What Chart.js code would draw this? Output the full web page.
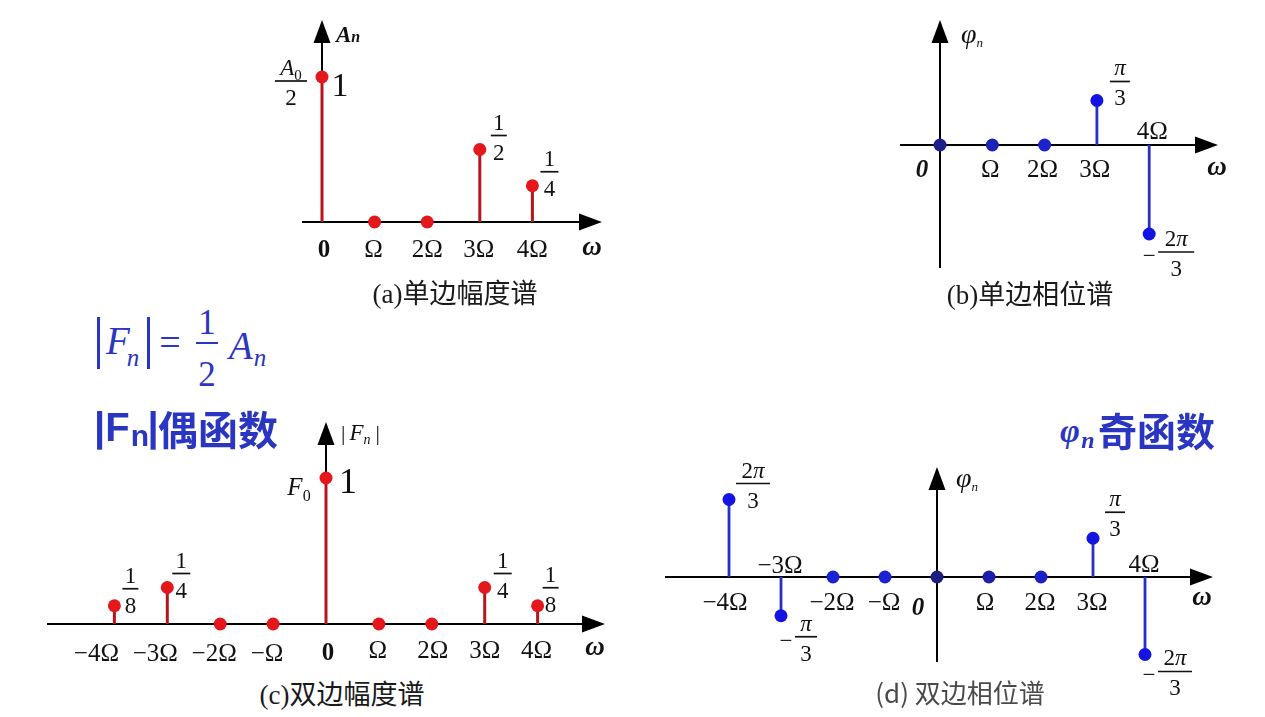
<!DOCTYPE html>
<html><head><meta charset="utf-8">
<script src="https://cdn.jsdelivr.net/npm/chart.js@4.4.0/dist/chart.umd.min.js"></script>
<style>
html,body{margin:0;padding:0;background:#fff;width:1265px;height:717px;overflow:hidden;position:relative}
canvas{position:absolute}
.t{position:absolute;white-space:nowrap;line-height:1;transform:translate(-50%,-50%)}
.l{position:absolute;white-space:nowrap;line-height:1;transform:translate(0,-50%)}
.bar{position:absolute}
.blue{color:#2a36c2}
</style></head><body>
<canvas id="ca"></canvas><canvas id="cb"></canvas><canvas id="cc"></canvas><canvas id="cd"></canvas>

<!-- formula -->
<div class="bar" style="left:97px;top:317px;width:2.5px;height:52px;background:#2a36c2"></div>
<div class="t blue" style="left:118px;top:340px;font:italic 39px 'Liberation Serif'">F</div>
<div class="t blue" style="left:133px;top:358px;font:italic 25px 'Liberation Serif'">n</div>
<div class="bar" style="left:147px;top:317px;width:2.5px;height:52px;background:#2a36c2"></div>
<div class="t blue" style="left:170px;top:342px;font:38px 'Liberation Serif'">=</div>
<div class="t blue" style="left:207px;top:323px;font:35px 'Liberation Serif'">1</div>
<div class="bar" style="left:196px;top:342px;width:22px;height:2px;background:#2a36c2"></div>
<div class="t blue" style="left:207px;top:375px;font:35px 'Liberation Serif'">2</div>
<div class="t blue" style="left:241px;top:345px;font:italic 39px 'Liberation Serif'">A</div>
<div class="t blue" style="left:260px;top:358px;font:italic 25px 'Liberation Serif'">n</div>

<div class="l blue" style="left:94px;top:427px;font:bold 40px 'Liberation Sans'">|F</div>
<div class="t blue" style="left:140px;top:436px;font:bold 30px 'Liberation Sans'">n</div>
<div class="t blue" style="left:153px;top:427px;font:bold 40px 'Liberation Sans'">|</div>
<div class="l blue" style="left:158px;top:428px;font:bold 40px 'Noto Sans CJK SC'">偶函数</div>

<div class="t blue" style="left:1070px;top:431px;font:italic bold 34px 'Liberation Serif'">φ</div>
<div class="t blue" style="left:1088px;top:440px;font:italic bold 24px 'Liberation Serif'">n</div>
<div class="l blue" style="left:1098px;top:429px;font:bold 39px 'Noto Sans CJK SC'">奇函数</div>

<div class="t" style="left:455px;top:291px;font:27px 'Liberation Serif','Noto Sans CJK SC';color:#1a1a1a">(a)单边幅度谱</div>
<div class="t" style="left:1030px;top:292px;font:27px 'Liberation Serif','Noto Sans CJK SC';color:#1a1a1a">(b)单边相位谱</div>
<div class="t" style="left:342px;top:692px;font:27px 'Liberation Serif','Noto Sans CJK SC';color:#1a1a1a">(c)双边幅度谱</div>
<div class="t" style="left:960px;top:691px;font:26px 'Noto Sans CJK SC';color:#4a4a4a">(d) 双边相位谱</div>

<script>
// ---------------- DATA ----------------
const harmonicsOneSided = [0, 1, 2, 3, 4];
const amplitudeOneSided = [1, 0, 0, 0.5, 0.25];
const phaseOneSided = [0, 0, 0, Math.PI / 3, -2 * Math.PI / 3];
const harmonicsTwoSided = [-4, -3, -2, -1, 0, 1, 2, 3, 4];
const amplitudeTwoSided = [0.125, 0.25, 0, 0, 1, 0, 0, 0.25, 0.125];
const phaseTwoSided = [2 * Math.PI / 3, -Math.PI / 3, 0, 0, 0, 0, 0, Math.PI / 3, -2 * Math.PI / 3];
const ticksOneSided = ['0', 'Ω', '2Ω', '3Ω', '4Ω'];
const ticksTwoSided = ['−4Ω', '−3Ω', '−2Ω', '−Ω', '0', 'Ω', '2Ω', '3Ω', '4Ω'];
const marksA = [[0, 'A_0/2'], [0, '1'], [3, '1/2'], [4, '1/4']];
const marksB = [[3, 'π/3'], [4, '−2π/3']];
const marksC = [[0, '1/8'], [1, '1/4'], [4, 'F_0'], [4, '1'], [7, '1/4'], [8, '1/8']];
const marksD = [[0, '2π/3'], [1, '−π/3'], [7, 'π/3'], [8, '−2π/3']];

// ---------------- RENDERING ----------------
const SERIF = '"Liberation Serif", "DejaVu Serif", serif';
const FRAC = 23, TICK = 25;
function fontOf(style, size) { return (style ? style + ' ' : '') + size + 'px ' + SERIF; }
function parse(str, size, bold) {
  const out = [];
  for (let i = 0; i < str.length; i++) {
    const ch = str[i];
    if (ch === '_') {
      out.push({ t: str[i + 1], f: fontOf(bold ? 'bold' : '', Math.round(size * 0.64)), dy: Math.round(size * 0.22) });
      i++; continue;
    }
    const it = /[A-Za-zπφω]/.test(ch);
    const st = (it ? 'italic' : '') + (bold ? (it ? ' bold' : 'bold') : '');
    out.push({ t: ch, f: fontOf(st, size) });
  }
  return out;
}
function drawSegs(ctx, sg, x, baseline, align) {
  let w = 0;
  sg.forEach(s => { ctx.font = s.f; s.w = ctx.measureText(s.t).width; w += s.w + (s.gap || 0); });
  let cx = align === 'center' ? x - w / 2 : align === 'right' ? x - w : x;
  ctx.textAlign = 'left'; ctx.textBaseline = 'alphabetic';
  sg.forEach(s => { ctx.font = s.f; ctx.fillText(s.t, cx, baseline + (s.dy || 0)); cx += s.w + (s.gap || 0); });
}
function drawFrac(ctx, str, cx, ly, half, size) {
  let neg = false;
  if (str[0] === '−') { neg = true; str = str.slice(1); }
  const parts = str.split('/');
  drawSegs(ctx, parse(parts[0], size), cx, ly - 6, 'center');
  drawSegs(ctx, parse(parts[1], size), cx, ly + 24, 'center');
  ctx.lineWidth = 1.7;
  ctx.beginPath(); ctx.moveTo(cx - half, ly); ctx.lineTo(cx + half, ly); ctx.stroke();
  if (neg) { ctx.font = fontOf('', size); ctx.textAlign = 'center'; ctx.fillText('−', cx - half - 9, ly + 11); }
}

function drawBack(chart, c) {
  const ctx = chart.ctx, xs = chart.scales.x, ys = chart.scales.y;
  const ox = xs.getPixelForValue(0), oy = ys.getPixelForValue(0);
  ctx.save();
  ctx.strokeStyle = '#000'; ctx.fillStyle = '#000'; ctx.lineWidth = 2;
  const xl = ox + c.axisX[0], xr = ox + c.axisX[1];
  ctx.beginPath(); ctx.moveTo(xl, oy); ctx.lineTo(xr - 10, oy); ctx.stroke();
  ctx.beginPath(); ctx.moveTo(xr, oy); ctx.lineTo(xr - 23, oy - 8.5); ctx.lineTo(xr - 23, oy + 8.5); ctx.closePath(); ctx.fill();
  const yb = oy + c.axisY[0], yt = oy - c.axisY[1];
  ctx.beginPath(); ctx.moveTo(ox, yb); ctx.lineTo(ox, yt + 10); ctx.stroke();
  ctx.beginPath(); ctx.moveTo(ox, yt); ctx.lineTo(ox - 8.5, yt + 23); ctx.lineTo(ox + 8.5, yt + 23); ctx.closePath(); ctx.fill();
  const d = chart.data.datasets[0].data;
  ctx.strokeStyle = c.stemColor; ctx.lineWidth = c.stemWidth;
  d.forEach(p => {
    if (p.y !== 0) {
      const px = xs.getPixelForValue(p.x), py = ys.getPixelForValue(p.y);
      ctx.beginPath(); ctx.moveTo(px, oy); ctx.lineTo(px, py); ctx.stroke();
    }
  });
  ctx.restore();
}
function drawFront(chart, c) {
  const ctx = chart.ctx, xs = chart.scales.x, ys = chart.scales.y;
  const ox = xs.getPixelForValue(0), oy = ys.getPixelForValue(0);
  const d = chart.data.datasets[0].data;
  ctx.save();
  ctx.fillStyle = '#111'; ctx.strokeStyle = '#111';
  c.ticks.forEach((t, i) => {
    const px = xs.getPixelForValue(d[i].x) + c.tickDx[i];
    const cy = oy + c.tickDy[i];
    const sg = (t === '0') ? [{ t: '0', f: fontOf(c.originStyle, TICK) }] : parse(t, TICK);
    drawSegs(ctx, sg, px, cy + 8.5, 'center');
  });
  drawSegs(ctx, [{ t: 'ω', f: fontOf('italic bold', 27) }], ox + c.omega[0], oy + c.omega[1] + 7, 'center');
  drawSegs(ctx, c.axisName, ox + c.axisNamePos[0], oy + c.axisNamePos[1], 'left');
  c.marks.forEach((m, k) => {
    const p = d[m[0]];
    const px = xs.getPixelForValue(p.x), py = ys.getPixelForValue(p.y);
    const o = c.markPos[k];
    if (m[1].indexOf('/') >= 0) {
      drawFrac(ctx, m[1], px + o[0], py + o[1], o[2], FRAC);
    } else {
      const size = o[2];
      drawSegs(ctx, parse(m[1], size), px + o[0], py + o[1] + size * 0.33, 'center');
    }
  });
  ctx.restore();
}

function makeChart(id, box, geo, xsArr, ysArr, c) {
  const cv = document.getElementById(id);
  cv.width = box.w; cv.height = box.h;
  cv.style.left = box.l + 'px'; cv.style.top = box.t + 'px';
  cv.style.width = box.w + 'px'; cv.style.height = box.h + 'px';
  const xmin = (box.l - geo.ox) / geo.ux, xmax = (box.l + box.w - geo.ox) / geo.ux;
  const ymax = (geo.oy - box.t) / geo.uy, ymin = (geo.oy - box.t - box.h) / geo.uy;
  new Chart(cv, {
    type: 'scatter',
    data: { datasets: [{
      data: xsArr.map((v, i) => ({ x: v, y: ysArr[i] })),
      pointRadius: 6.5, pointHoverRadius: 6.5, pointBorderWidth: 0,
      pointBackgroundColor: c.dotColors, borderWidth: 0, showLine: false, clip: false
    }] },
    options: {
      responsive: false, animation: false, events: [], devicePixelRatio: 1,
      layout: { padding: 0, autoPadding: false },
      plugins: { legend: { display: false }, tooltip: { enabled: false } },
      scales: {
        x: { type: 'linear', display: false, min: xmin, max: xmax },
        y: { type: 'linear', display: false, min: ymin, max: ymax }
      }
    },
    plugins: [{
      id: 'deco' + id,
      beforeDatasetsDraw(chart) { drawBack(chart, c); },
      afterDatasetsDraw(chart) { drawFront(chart, c); }
    }]
  });
}

const RED = '#e3171c', REDSTEM = '#b5161c', BLUESTEM = '#2830c4';

makeChart('ca', { l: 250, t: 10, w: 370, h: 262 }, { ox: 322, oy: 222, ux: 52.6, uy: 145 },
  harmonicsOneSided, amplitudeOneSided, {
    stemColor: REDSTEM, stemWidth: 3, dotColors: harmonicsOneSided.map(() => RED),
    axisX: [-20, 280], axisY: [0, 202],
    ticks: ticksOneSided, tickDx: [2, -1, 0, -1, 0], tickDy: [26, 26, 26, 26, 26], originStyle: 'bold',
    omega: [270, 26],
    axisName: [{ t: 'A', f: fontOf('italic bold', 23) }, { t: 'n', f: fontOf('italic bold', 16) }],
    axisNamePos: [14, -180],
    marks: marksA, markPos: [[-31, 4, 16], [18, 8, 34], [19, -14, 8], [17, -14, 9]]
  });

makeChart('cb', { l: 890, t: 10, w: 350, h: 270 }, { ox: 940, oy: 145, ux: 52.3, uy: 42.5 },
  harmonicsOneSided, phaseOneSided, {
    stemColor: BLUESTEM, stemWidth: 2.8,
    dotColors: ['#1c1f86', '#1d22b4', '#1b22cc', '#1414e2', '#1414e2'],
    axisX: [-40, 278], axisY: [123, 125],
    ticks: ticksOneSided, tickDx: [-18, -2, -2, -2, 3], tickDy: [23, 23, 23, 23, -15], originStyle: 'italic bold',
    omega: [277, 23],
    axisName: [{ t: 'φ', f: fontOf('italic', 28) }, { t: 'n', f: fontOf('italic', 13), dy: 4, gap: 0 }],
    axisNamePos: [21, -102],
    marks: marksB, markPos: [[23, -19, 10], [27, 18, 18]]
  });

makeChart('cc', { l: 40, t: 410, w: 610, h: 262 }, { ox: 326, oy: 624, ux: 52.9, uy: 146 },
  harmonicsTwoSided, amplitudeTwoSided, {
    stemColor: REDSTEM, stemWidth: 3, dotColors: harmonicsTwoSided.map(() => RED),
    axisX: [-279, 279], axisY: [0, 202],
    ticks: ticksTwoSided, tickDx: [-18, -12, -6, -6, 2, -1, 1, 0, -1], tickDy: [28, 28, 28, 28, 27, 25, 25, 25, 25], originStyle: 'bold',
    omega: [269, 24],
    axisName: [{ t: '|', f: fontOf('', 22), gap: 4 }, { t: 'F', f: fontOf('italic', 23) }, { t: 'n', f: fontOf('italic', 14), dy: 4, gap: 5 }, { t: '|', f: fontOf('', 22) }],
    axisNamePos: [15, -184],
    marks: marksC, markPos: [[16, -17, 8], [14, -14, 9], [-27, 9, 25], [22, 3, 36], [18, -14, 9], [13, -18, 8]]
  });

makeChart('cd', { l: 655, t: 450, w: 600, h: 255 }, { ox: 937, oy: 577, ux: 52, uy: 37 },
  harmonicsTwoSided, phaseTwoSided, {
    stemColor: BLUESTEM, stemWidth: 2.8,
    dotColors: ['#1414e2', '#1414e2', '#1a22d2', '#1a22d2', '#1c1f80', '#1c20a8', '#1b22c4', '#1414e0', '#1414e2'],
    axisX: [-272, 276], axisY: [85, 110],
    ticks: ticksTwoSided, tickDx: [-4, -1, -1, -1, -19, -4, -1, -1, -1], tickDy: [24, -13, 24, 24, 29, 24, 24, 24, -14], originStyle: 'italic bold',
    omega: [265, 21],
    axisName: [{ t: 'φ', f: fontOf('italic', 28) }, { t: 'n', f: fontOf('italic', 13), dy: 4 }],
    axisNamePos: [19, -90],
    marks: marksD, markPos: [[24, -16, 17], [25, 21, 11], [22, -26, 10], [30, 17, 17]]
  });
</script>
</body></html>
